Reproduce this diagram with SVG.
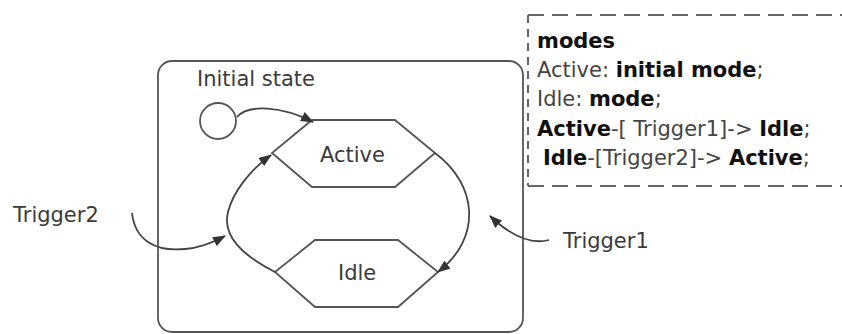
<svg xmlns="http://www.w3.org/2000/svg" width="842" height="334" viewBox="0 0 842 334">
<style>
  text { font-family: "DejaVu Sans", "Liberation Sans", sans-serif; fill: #3a3a3a; }
  .lbl { font-size: 21px; }
  .code { font-size: 21px; fill: #444; }
  .b { font-weight: bold; fill: #111; }
  .shape { fill: #fff; stroke: #555; stroke-width: 1.8; }
  .conn { fill: none; stroke: #444; stroke-width: 1.8; }
  .dash { stroke: #666; stroke-width: 2; fill: none; }
</style>
<defs>
  <marker id="arr" viewBox="0 0 13 10" refX="12" refY="5" markerWidth="13" markerHeight="10" markerUnits="userSpaceOnUse" orient="auto">
    <path d="M0,0 L13,5 L0,10 Z" fill="#333"/>
  </marker>
</defs>
<rect width="842" height="334" fill="#fff"/>

<g id="mode-box">
  <line class="dash" x1="528" y1="15" x2="842" y2="15" stroke-dasharray="16 8"/>
  <line class="dash" x1="528" y1="186" x2="842" y2="186" stroke-dasharray="16 8"/>
  <line class="dash" x1="528" y1="15" x2="528" y2="186" stroke-dasharray="8 6"/>
  <text class="code" x="537" y="48"><tspan class="b">modes</tspan></text>
  <text class="code" x="537" y="77">Active: <tspan class="b">initial mode</tspan>;</text>
  <text class="code" x="537" y="106">Idle: <tspan class="b">mode</tspan>;</text>
  <text class="code" x="537" y="136"><tspan class="b">Active</tspan>-[ Trigger1]-&gt; <tspan class="b">Idle</tspan>;</text>
  <text class="code" x="543" y="165"><tspan class="b">Idle</tspan>-[Trigger2]-&gt; <tspan class="b">Active</tspan>;</text>
</g>

<g id="system">
  <rect class="shape" x="158" y="61" width="365" height="271" rx="14" ry="14" stroke-width="2"/>
  <text class="lbl" x="197" y="86">Initial state</text>
</g>

<g id="initial">
  <circle class="shape" cx="218" cy="121" r="18"/>
</g>

<g id="active">
  <polygon class="shape" points="312,120 395,120 435,153 395,187 312,187 272,153"/>
  <text class="lbl" x="320" y="162">Active</text>
</g>

<g id="idle">
  <polygon class="shape" points="315,240 398,240 438,272 398,307 315,307 275,272"/>
  <text class="lbl" x="338" y="280">Idle</text>
</g>

<g id="trigger2-label">
  <text class="lbl" x="13" y="222">Trigger2</text>
</g>
<g id="trigger1-label">
  <text class="lbl" x="563" y="248">Trigger1</text>
</g>

<g id="connectors">
  <path class="conn" d="M 237 117 C 248 104, 282 106, 313 122" marker-end="url(#arr)"/>
  <path class="conn" d="M 275 272 C 242 255, 222 236, 228 212 C 233 192, 250 170, 271 155" marker-end="url(#arr)"/>
  <path class="conn" d="M 435 153 C 478 185, 482 238, 438 272" marker-end="url(#arr)"/>
  <path class="conn" d="M 132 213 C 135 240, 155 252, 185 249 C 200 248, 212 243, 225 236" marker-end="url(#arr)"/>
  <path class="conn" d="M 549 240 C 530 245, 510 235, 490 216" marker-end="url(#arr)"/>
</g>
</svg>
